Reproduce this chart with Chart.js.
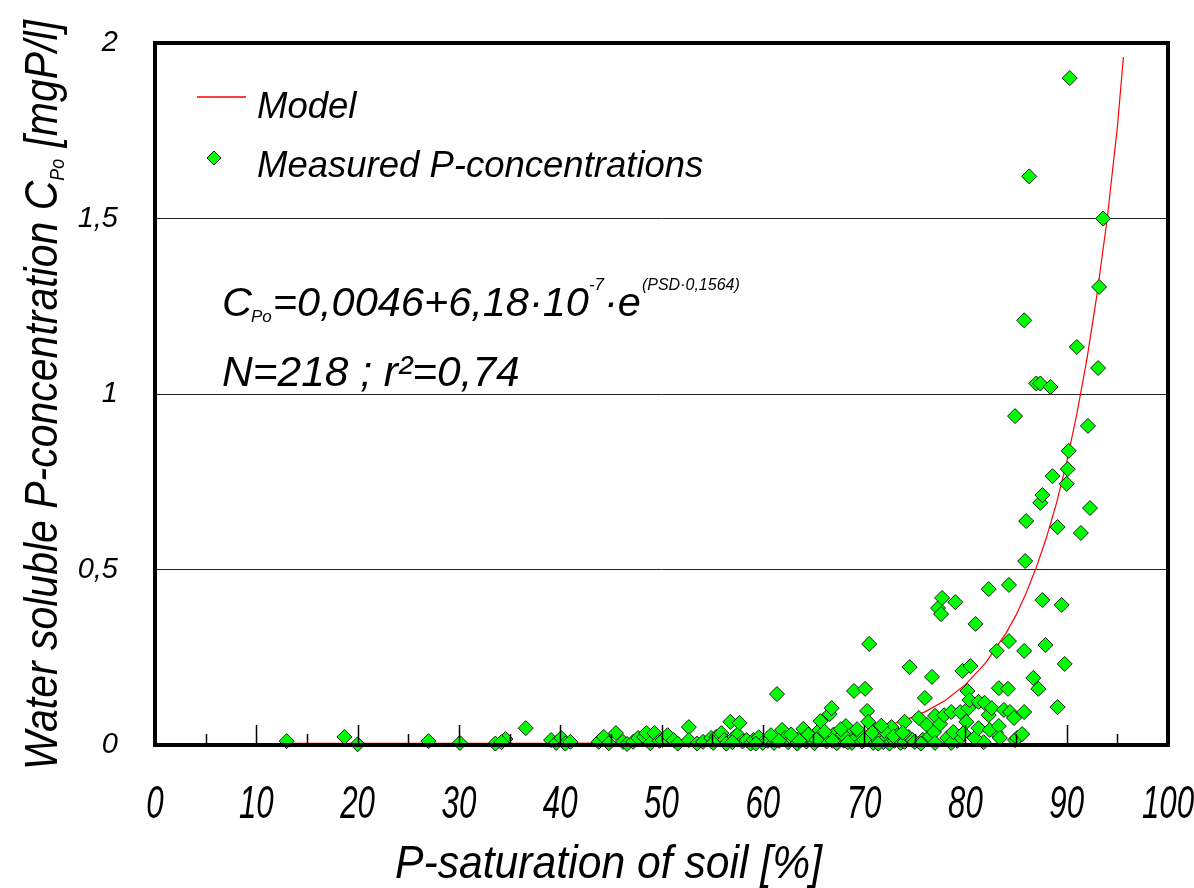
<!DOCTYPE html>
<html lang="en">
  <head>
    <meta charset="UTF-8" />
    <title>P-saturation vs water soluble P</title>
    <script src="https://cdn.jsdelivr.net/npm/chart.js@4.4.1/dist/chart.umd.min.js"></script>
    <style>
      html, body { margin: 0; padding: 0; background: #fff; }
      #wrap { width: 1194px; height: 888px; }
    </style>
  </head>
  <body>
    <div id="wrap"><canvas id="psChart" width="1194" height="888"></canvas></div>
    <script>
      // measured points: P-saturation of soil [%] and water soluble P [mgP/l]
      const satX = [
        13.0, 18.7, 20.0, 27.0, 30.1, 33.6, 34.6, 34.2, 36.6, 39.1, 39.6, 40.1, 40.5, 41.0, 43.8, 44.3, 44.8, 45.5, 46.2, 46.6,
        47.2, 47.7, 48.3, 48.5, 48.9, 49.3, 49.8, 50.1, 50.6, 51.2, 51.6, 52.7, 52.7, 53.5, 54.1, 54.9, 55.4, 55.9, 56.2, 56.4,
        56.8, 57.2, 57.5, 57.7, 58.0, 58.4, 58.8, 59.1, 59.6, 60.0,
        60.5, 61.1, 61.4, 61.9, 62.2, 62.5, 63.0, 63.4, 63.8, 64.0, 64.3, 64.7, 65.1, 65.6, 65.7, 66.0, 66.3, 66.6, 66.8, 67.0,
        67.3, 67.6, 68.0, 68.2, 68.5, 68.8, 69.0, 69.2, 69.5, 69.8, 70.1, 70.3, 70.4, 70.5, 70.6, 70.9, 71.1, 71.3, 71.6, 71.9,
        72.2, 72.5, 72.7, 73.0, 73.3, 73.6, 74.0, 74.0, 74.4, 74.5, 74.8, 75.0,
        55.1, 57.0, 59.3, 60.8, 61.6, 62.8, 63.6, 64.5, 65.3, 66.1, 66.9, 67.9, 68.4, 69.3, 70.0, 70.8, 71.4, 72.0, 72.9, 73.8,
        75.8, 76.5, 78.2, 79.2, 81.8, 83.0, 75.6, 71.7, 67.7,
        75.4, 76.0, 76.2, 76.7, 76.9, 77.0, 77.0, 77.3, 77.5, 77.6, 77.7, 77.9, 78.6, 78.6, 78.8, 79.0, 79.5, 79.7, 79.8, 80.1,
        80.2, 80.3, 80.4, 80.5, 80.9, 81.0, 81.3, 81.3, 81.9, 82.3, 82.3, 82.4, 82.6, 83.1, 83.3, 83.3, 83.4, 83.8, 84.2, 84.3,
        84.3, 84.4, 84.8, 84.9, 84.9, 85.1, 85.6, 85.8, 85.8, 85.8, 85.9, 86.0, 86.3, 86.7, 87.0, 87.2, 87.4, 87.4, 87.6, 87.6,
        87.9, 88.4, 88.6, 89.1, 89.1, 89.5, 89.8, 90.0, 90.1, 90.2, 90.3, 91.0, 91.4, 92.1, 92.3, 93.1, 93.2, 93.6
      ];
      const conc = [
        0.011, 0.023, 0.002, 0.011, 0.006, 0.004, 0.017, 0.008, 0.048, 0.014, 0.006, 0.020, 0.004, 0.009, 0.009, 0.023, 0.005, 0.034, 0.009, 0.003,
        0.009, 0.020, 0.023, 0.034, 0.005, 0.034, 0.012, 0.014, 0.028, 0.014, 0.004, 0.051, 0.014, 0.004, 0.009, 0.020, 0.023, 0.034, 0.014, 0.004,
        0.066, 0.023, 0.030, 0.063, 0.010, 0.014, 0.004, 0.014, 0.022, 0.006,
        0.012, 0.006, 0.145, 0.043, 0.020, 0.008, 0.015, 0.004, 0.025, 0.046, 0.010, 0.018, 0.005, 0.043, 0.068, 0.020, 0.010, 0.088, 0.105, 0.030,
        0.005, 0.018, 0.012, 0.054, 0.025, 0.006, 0.154, 0.020, 0.035, 0.010, 0.160, 0.097, 0.066, 0.288, 0.022, 0.006, 0.043, 0.015, 0.030, 0.008,
        0.020, 0.004, 0.051, 0.012, 0.028, 0.006, 0.066, 0.009, 0.023, 0.222, 0.014, 0.009,
        0.006, 0.008, 0.004, 0.028, 0.012, 0.030, 0.012, 0.030, 0.015, 0.038, 0.012, 0.030, 0.008, 0.045, 0.015, 0.035, 0.004, 0.040, 0.025, 0.035,
        0.015, 0.025, 0.020, 0.012, 0.008, 0.035, 0.004, 0.055, 0.045,
        0.077, 0.134, 0.057, 0.194, 0.037, 0.083, 0.006, 0.390, 0.060, 0.373, 0.419, 0.085, 0.094, 0.006, 0.037, 0.407, 0.094, 0.211, 0.034, 0.066,
        0.154, 0.105, 0.128, 0.225, 0.020, 0.345, 0.123, 0.048, 0.120, 0.085, 0.444, 0.043, 0.105, 0.268, 0.162, 0.054, 0.020, 0.100, 0.160, 0.456,
        0.296, 0.094, 0.077, 0.014, 0.937, 0.020, 0.031, 0.094, 0.268, 1.210, 0.524, 0.638, 1.620, 0.191, 1.030, 0.160, 1.030, 0.690, 0.712, 0.413,
        0.285, 1.020, 0.766, 0.621, 0.108, 0.399, 0.231, 0.744, 0.786, 0.838, 1.900, 1.134, 0.604, 0.909, 0.675, 1.074, 1.305, 1.500
      ];

      // model curve as drawn in the figure
      const modelX = [13, 20, 30, 40, 50, 55, 60, 65, 70, 72, 74, 76, 78, 80, 82, 84, 85, 86, 87, 88, 89, 90, 91, 92, 93, 94, 95, 95.6];
      const modelY = [0.0046, 0.0046, 0.0047, 0.0049, 0.0061, 0.008, 0.012, 0.0207, 0.0398, 0.0526, 0.0703, 0.0944, 0.127, 0.172,
                      0.234, 0.318, 0.370, 0.433, 0.506, 0.591, 0.690, 0.806, 0.943, 1.10, 1.285, 1.50, 1.76, 1.96];

      const xTicks = [0, 10, 20, 30, 40, 50, 60, 70, 80, 90, 100];
      const yTickLabels = ["0", "0,5", "1", "1,5", "2"];

      const FONT = '"Liberation Sans", Arial, sans-serif';

      function italic(ctx, size) {
        ctx.font = "italic " + size + "px " + FONT;
      }

      // draws text squeezed horizontally, returns advance width
      function squeezed(ctx, s, x, y, size, sx) {
        italic(ctx, size);
        const w = ctx.measureText(s).width;
        ctx.save();
        ctx.translate(x, y);
        ctx.scale(sx, 1);
        ctx.fillText(s, 0, 0);
        ctx.restore();
        return w * sx;
      }

      const decor = {
        id: "decor",
        afterDatasetsDraw(chart) {
          const ctx = chart.ctx;
          const a = chart.chartArea;
          const xs = chart.scales.x;
          ctx.save();
          // inner ticks on the x axis
          ctx.strokeStyle = "#000";
          ctx.lineWidth = 1.5;
          for (let v = 5; v < 100; v += 5) {
            const px = Math.round(xs.getPixelForValue(v)) + 0.5;
            const len = v % 10 === 0 ? 20 : 11;
            ctx.beginPath();
            ctx.moveTo(px, a.bottom);
            ctx.lineTo(px, a.bottom - len);
            ctx.stroke();
          }
          // frame
          ctx.lineWidth = 4;
          ctx.strokeRect(a.left, a.top, a.right - a.left, a.bottom - a.top);
          ctx.restore();
        },
        afterDraw(chart) {
          const ctx = chart.ctx;
          const xs = chart.scales.x;
          ctx.save();
          ctx.fillStyle = "#000";
          ctx.textBaseline = "alphabetic";

          // x tick labels, narrow italic
          xTicks.forEach((v) => {
            const s = String(v);
            italic(ctx, 46);
            const w = ctx.measureText(s).width * 0.68;
            squeezed(ctx, s, xs.getPixelForValue(v) - w / 2, 818, 46, 0.68);
          });

          // legend
          ctx.strokeStyle = "#ff0000";
          ctx.lineWidth = 1.5;
          ctx.beginPath();
          ctx.moveTo(197, 97);
          ctx.lineTo(246, 97);
          ctx.stroke();
          ctx.lineWidth = 1;
          ctx.beginPath();
          ctx.moveTo(214, 151);
          ctx.lineTo(221, 158);
          ctx.lineTo(214, 165);
          ctx.lineTo(207, 158);
          ctx.closePath();
          ctx.fillStyle = "#00ff00";
          ctx.fill();
          ctx.strokeStyle = "#111";
          ctx.stroke();
          ctx.fillStyle = "#000";
          italic(ctx, 36.5);
          ctx.fillText("Model", 257, 118);
          ctx.fillText("Measured P-concentrations", 257, 177);

          // equation
          let x = 222;
          const b1 = 316;
          italic(ctx, 41.5);
          ctx.fillText("C", x, b1);
          x += ctx.measureText("C").width;
          italic(ctx, 17);
          ctx.fillText("Po", x - 1, b1 + 6);
          x += ctx.measureText("Po").width;
          italic(ctx, 41.5);
          const mid = "=0,0046+6,18\u00b710";
          ctx.fillText(mid, x, b1);
          x += ctx.measureText(mid).width;
          italic(ctx, 17);
          ctx.fillText("-7", x, b1 - 26);
          x += ctx.measureText("-7").width;
          italic(ctx, 41.5);
          ctx.fillText("\u00b7e", x, b1);
          x += ctx.measureText("\u00b7e").width;
          italic(ctx, 16);
          ctx.fillText("(PSD\u00b70,1564)", x + 1, b1 - 26);

          italic(ctx, 42.5);
          ctx.fillText("N=218 ; r\u00b2=0,74", 222, 386);

          // x axis title
          italic(ctx, 46);
          const xt = "P-saturation of soil [%]";
          const sxX = 427 / ctx.measureText(xt).width;
          squeezed(ctx, xt, 395, 878, 46, sxX);

          // y axis title, rotated
          ctx.translate(57, 395);
          ctx.rotate(-Math.PI / 2);
          const p1 = "Water soluble P-concentration C";
          const p2 = "Po";
          const p3 = " [mgP/l]";
          italic(ctx, 46);
          const w1 = ctx.measureText(p1).width;
          const w3 = ctx.measureText(p3).width;
          italic(ctx, 20);
          const w2 = ctx.measureText(p2).width;
          const sy = 750 / (w1 + w2 + w3);
          let yx = -375;
          yx += squeezed(ctx, p1, yx, 0, 46, sy);
          yx += squeezed(ctx, p2, yx, 7, 20, sy);
          squeezed(ctx, p3, yx, 0, 46, sy);
          ctx.restore();
        }
      };

      window.onload = function () {
        const measured = satX.map((v, i) => ({ x: v, y: conc[i] }));
        const model = modelX.map((v, i) => ({ x: v, y: modelY[i] }));

        new Chart(document.getElementById("psChart"), {
          type: "scatter",
          data: {
            datasets: [
              {
                label: "Measured P-concentrations",
                data: measured,
                pointStyle: "rectRot",
                pointRadius: 7.5,
                backgroundColor: "#00ff00",
                borderColor: "#1a1a1a",
                borderWidth: 1,
                clip: false,
                order: 1,
              },
              {
                type: "line",
                label: "Model",
                data: model,
                borderColor: "#ff0000",
                borderWidth: 1.2,
                pointRadius: 0,
                tension: 0,
                fill: false,
                order: 2,
              },
            ],
          },
          options: {
            responsive: false,
            animation: false,
            layout: { padding: { left: 0, top: 43, right: 26, bottom: 0 } },
            plugins: {
              legend: { display: false },
              tooltip: { enabled: false },
            },
            scales: {
              x: {
                type: "linear",
                min: 0,
                max: 100,
                afterBuildTicks: (s) => { s.ticks = xTicks.map((v) => ({ value: v })); },
                afterFit: (s) => { s.height = 143; s.paddingLeft = 0; s.paddingRight = 0; },
                grid: { display: false },
                border: { display: false },
                ticks: { display: false },
              },
              y: {
                min: 0,
                max: 2,
                afterFit: (s) => { s.width = 155; s.paddingTop = 0; s.paddingBottom = 0; },
                grid: { color: "#222", lineWidth: 1, drawTicks: false },
                border: { display: false },
                ticks: {
                  stepSize: 0.5,
                  color: "#000",
                  padding: 37,
                  callback: (v) => yTickLabels[Math.round(v * 2)],
                  font: { family: FONT, style: "italic", size: 29 },
                },
              },
            },
          },
          plugins: [decor],
        });
      };
    </script>
  </body>
</html>
